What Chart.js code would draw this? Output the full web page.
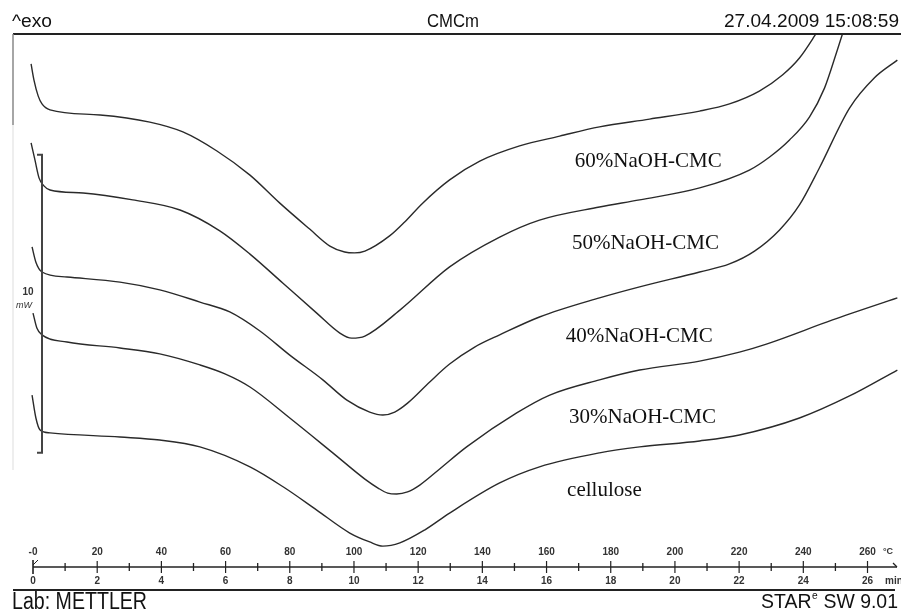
<!DOCTYPE html>
<html><head><meta charset="utf-8">
<script src="https://cdn.jsdelivr.net/npm/chart.js@4"></script>
<style>html,body{margin:0;padding:0;background:#fff}canvas{display:block}</style>
</head><body>
<canvas id="c" width="901" height="612"></canvas>
<script>
// ---- DATA (temperature in °C, heat flow in mW, curves stacked with offsets) ----
const curveLabels = ['60%NaOH-CMC','50%NaOH-CMC','40%NaOH-CMC','30%NaOH-CMC','cellulose'];

const temp60 = [-0.6,0.3,1.6,2.8,5.3,20.9,36.4,46.7,57.3,67.6,76.9,86.2,92.5,97.1,100.2,103.4,111.1,115.8,121.4,129.8,139.2,151.6,164.1,176.5,192.1,207.7,217.0,226.3,233.5,238.8,243.5,245.6];
const flow60 = [16.88,16.34,15.81,15.54,15.34,15.17,14.93,14.60,13.96,13.15,12.21,11.34,10.77,10.57,10.54,10.60,11.11,11.58,12.21,12.99,13.62,14.13,14.46,14.77,15.03,15.30,15.54,15.97,16.51,17.08,17.82,18.19];

const temp50 = [-0.6,0.6,1.9,3.4,5.3,15.6,31.1,45.8,58.2,67.6,77.8,88.4,95.6,99.3,103.4,114.3,129.8,145.4,157.8,176.5,189.0,207.7,223.2,229.5,235.7,241.9,246.6,250.6,252.8];
const flow50 = [14.23,13.66,13.05,12.79,12.65,12.55,12.32,11.98,11.28,10.50,9.53,8.52,7.85,7.68,7.75,8.62,10.07,11.07,11.64,12.08,12.32,12.72,13.32,13.76,14.33,15.10,16.07,17.35,18.09];

const temp40 = [-0.3,0.9,2.8,10.6,27.1,39.5,52.0,61.3,70.7,80.0,90.3,97.8,104.9,109.0,112.7,116.7,123.6,129.8,137.6,145.4,157.8,176.5,189.0,207.7,217.0,224.8,232.6,238.8,245.0,254.4,262.1,269.3];
const flow40 = [10.74,10.23,9.90,9.73,9.56,9.30,8.89,8.56,7.92,7.11,6.28,5.60,5.20,5.10,5.20,5.50,6.21,6.81,7.38,7.79,8.39,9.03,9.40,9.90,10.17,10.60,11.31,12.15,13.39,15.40,16.41,17.01];

const temp30 = [0.0,1.2,2.8,10.6,27.1,39.5,52.0,59.8,67.6,80.0,93.4,103.4,107.5,110.5,113.3,116.7,120.5,126.7,135.1,150.7,161.0,176.5,189.0,207.7,220.1,228.5,249.1,269.3];
const flow30 = [8.52,8.02,7.79,7.55,7.35,7.15,6.78,6.48,6.04,5.00,3.83,2.95,2.65,2.48,2.45,2.52,2.75,3.29,4.03,5.17,5.77,6.28,6.61,6.91,7.21,7.48,8.29,9.03];

const tempCel = [-0.3,0.9,2.2,5.3,27.1,39.5,52.0,67.6,78.5,88.4,98.7,104.9,109.0,114.3,122.0,129.8,145.4,157.8,176.5,189.0,207.7,220.1,238.8,254.4,269.3];
const flowCel = [5.77,5.00,4.60,4.50,4.36,4.26,4.03,3.36,2.65,1.91,1.14,0.84,0.70,0.81,1.24,1.81,2.82,3.36,3.83,4.03,4.23,4.43,5.00,5.74,6.61];

// axis ticks: temperature (°C) on top of the axis line, time (min) below it
const majorTickTemps = [0,20,40,60,80,100,120,140,160,180,200,220,240,260];
const tempTickLabels = ['-0','20','40','60','80','100','120','140','160','180','200','220','240','260'];
const timeTickLabels = ['0','2','4','6','8','10','12','14','16','18','20','22','24','26'];
const minorTickTemps = [10,30,50,70,90,110,130,150,170,190,210,230,250];

const scaleBarMW = 10;
const scaleBarBase = 3.83;

function pts(xs, ys){ return xs.map((x,i)=>({x:x, y:ys[i]})); }
const seriesT = [temp60,temp50,temp40,temp30,tempCel];
const seriesV = [flow60,flow50,flow40,flow30,flowCel];

function txt(ctx, s, x, y, font, align, color, fitW, baseline){
  ctx.save();
  ctx.font = font; ctx.fillStyle = color || '#111';
  ctx.textBaseline = baseline || 'middle'; ctx.textAlign = 'left';
  const w = ctx.measureText(s).width;
  const sx = fitW ? fitW / w : 1;
  const x0 = align === 'left' ? x : (align === 'right' ? x - w*sx : x - w*sx/2);
  ctx.translate(x0, y); ctx.scale(sx, 1); ctx.fillText(s, 0, 0);
  ctx.restore();
}
function line(ctx, x1, y1, x2, y2, w, c){
  ctx.save(); ctx.strokeStyle = c; ctx.lineWidth = w;
  ctx.beginPath(); ctx.moveTo(x1,y1); ctx.lineTo(x2,y2); ctx.stroke(); ctx.restore();
}

const decor = {
  id: 'decor',
  afterDraw(chart){
    const ctx = chart.ctx, xs = chart.scales.x, ys = chart.scales.y, ca = chart.chartArea;
    const W = chart.width;
    // header
    txt(ctx, '^exo', 12, 27, '18px "Liberation Sans", Arial, sans-serif', 'left', '#111', 40, 'alphabetic');
    txt(ctx, 'CMCm', 453, 27, '18px "Liberation Sans", Arial, sans-serif', 'center', '#111', 52, 'alphabetic');
    txt(ctx, '27.04.2009 15:08:59', 899, 27, '18px "Liberation Sans", Arial, sans-serif', 'right', '#111', 175, 'alphabetic');
    // frame
    line(ctx, 13, ca.top, W, ca.top, 2, '#222');
    line(ctx, 13, ca.top, 13, 125, 1.5, '#888');
    line(ctx, 13, 125, 13, 470, 1, '#ddd');
    // bottom axis
    const ay = ca.bottom;
    line(ctx, xs.getPixelForValue(0), ay, ca.right - 1, ay, 1.5, '#222');
    line(ctx, ca.right - 5, ay - 4, ca.right - 1, ay, 1.2, '#222');
    minorTickTemps.forEach(t => { const px = xs.getPixelForValue(t); line(ctx, px, ay-4, px, ay+4, 1.3, '#222'); });
    majorTickTemps.forEach((t,i) => {
      const px = xs.getPixelForValue(t);
      if (i === 0) { line(ctx, px, ay-7, px, ay+7, 1.6, '#222'); line(ctx, px, ay-2, px+5, ay-7, 1, '#222'); }
      else line(ctx, px, ay-6, px, ay+6, 1.2, '#222');
      txt(ctx, tempTickLabels[i], px, ay - 15, 'bold 10px "Liberation Sans", Arial, sans-serif', 'center', '#333');
      txt(ctx, timeTickLabels[i], px, ay + 14, 'bold 10px "Liberation Sans", Arial, sans-serif', 'center', '#333');
    });
    txt(ctx, '°C', 888, ay - 15, 'bold 9px "Liberation Sans", Arial, sans-serif', 'center', '#333');
    txt(ctx, 'min', 894, ay + 14, 'bold 10px "Liberation Sans", Arial, sans-serif', 'center', '#333');
    // separator
    line(ctx, 13, 590, 895, 590, 2, '#222');
    // footer
    txt(ctx, 'Lab: METTLER', 12, 609, '23px "Liberation Sans", Arial, sans-serif', 'left', '#111', 135, 'alphabetic');
    ctx.save();
    ctx.font = '21px "Liberation Sans", Arial, sans-serif';
    const w1 = ctx.measureText('STAR').width;
    ctx.font = '11px "Liberation Sans", Arial, sans-serif';
    const w2 = ctx.measureText('e').width + 1;
    ctx.font = '21px "Liberation Sans", Arial, sans-serif';
    const w3 = ctx.measureText(' SW 9.01').width;
    const sx = 137 / (w1 + w2 + w3);
    ctx.translate(898 - 137, 608); ctx.scale(sx, 1); ctx.fillStyle = '#111'; ctx.textBaseline = 'alphabetic';
    ctx.fillText('STAR', 0, 0);
    ctx.font = '11px "Liberation Sans", Arial, sans-serif'; ctx.fillText('e', w1 + 0.5, -9);
    ctx.font = '21px "Liberation Sans", Arial, sans-serif'; ctx.fillText(' SW 9.01', w1 + w2, 0);
    ctx.restore();
    // scale bar 10 mW
    const yb = ys.getPixelForValue(scaleBarBase), yt = ys.getPixelForValue(scaleBarBase + scaleBarMW);
    ctx.save(); ctx.strokeStyle = '#444'; ctx.lineWidth = 2;
    ctx.beginPath(); ctx.moveTo(37, yt); ctx.lineTo(42, yt); ctx.lineTo(42, yb); ctx.lineTo(37, yb); ctx.stroke(); ctx.restore();
    txt(ctx, '10', 28, 292, 'bold 10px "Liberation Sans", Arial, sans-serif', 'center', '#333');
    txt(ctx, 'mW', 24, 305, 'italic 9px "Liberation Sans", Arial, sans-serif', 'center', '#333');
    // curve labels
    const labPos = [[168.8,13.62],[167.9,10.84],[166.0,7.72],[167.0,5.03],[166.4,2.58]];
    curveLabels.forEach((s,i) => {
      txt(ctx, s, xs.getPixelForValue(labPos[i][0]), ys.getPixelForValue(labPos[i][1]),
          '21px "Liberation Serif", "Times New Roman", serif', 'left', '#111');
    });
  }
};

new Chart(document.getElementById('c'), {
  type: 'line',
  data: {
    datasets: seriesT.map((t,i) => ({
      label: curveLabels[i],
      data: pts(t, seriesV[i]),
      borderColor: '#2a2a2a',
      borderWidth: 1.4,
      pointRadius: 0,
      cubicInterpolationMode: 'monotone',
      fill: false
    }))
  },
  options: {
    responsive: false,
    animation: false,
    devicePixelRatio: 1,
    layout: { padding: { left: 29.8, right: 3, top: 34, bottom: 45 } },
    plugins: { legend: { display: false }, tooltip: { enabled: false } },
    scales: {
      x: { type: 'linear', display: false, min: -1, max: 269.5 },
      y: { type: 'linear', display: false, min: 0, max: 17.886 }
    }
  },
  plugins: [decor]
});
</script>
</body></html>
